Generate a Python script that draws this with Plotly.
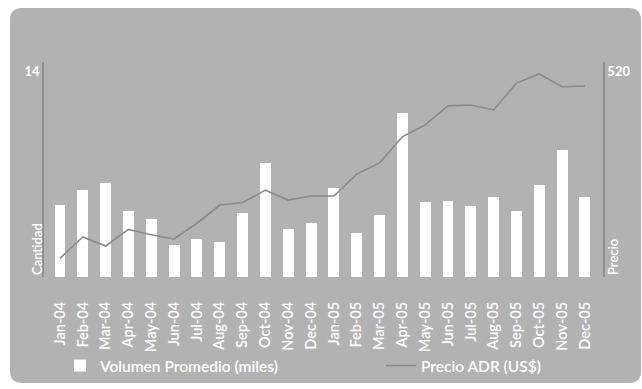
import plotly.graph_objects as go

# Monthly data, Jan-2004 .. Dec-2005
months = ["Jan-04", "Feb-04", "Mar-04", "Apr-04", "May-04", "Jun-04",
          "Jul-04", "Aug-04", "Sep-04", "Oct-04", "Nov-04", "Dec-04",
          "Jan-05", "Feb-05", "Mar-05", "Apr-05", "May-05", "Jun-05",
          "Jul-05", "Aug-05", "Sep-05", "Oct-05", "Nov-05", "Dec-05"]

volumen = [4.7, 5.65, 6.1, 4.3, 3.8, 2.1, 2.5, 2.3, 4.2, 7.4, 3.15, 3.5,
           5.8, 2.85, 4.05, 10.65, 4.9, 4.95, 4.65, 5.2, 4.3, 6.0, 8.25, 5.2]

precio = [45, 97, 75, 115, 102, 92, 130, 174, 180, 210, 186, 196,
          196, 249, 276, 339, 368, 414, 416, 404, 469, 491, 460, 462]

W, H = 642, 389
ML, MR, MT, MB = 44, 39, 62, 112
PW, PH = W - ML - MR, H - MT - MB

PANEL = "#b2b2b2"
LINE = "#8a8a8a"
AXIS = "#8f8f8f"
FONT = "Lato"


def px_to_paper(x, y):
    return (x - ML) / PW, (H - MB - y) / PH


def rounded_panel(x0, y0, x1, y1, r):
    def p(x, y):
        u, v = px_to_paper(x, y)
        return f"{u:.5f},{v:.5f}"
    return " ".join([
        f"M {p(x0 + r, y0)}",
        f"L {p(x1 - r, y0)}",
        f"Q {p(x1, y0)} {p(x1, y0 + r)}",
        f"L {p(x1, y1 - r)}",
        f"Q {p(x1, y1)} {p(x1 - r, y1)}",
        f"L {p(x0 + r, y1)}",
        f"Q {p(x0, y1)} {p(x0, y1 - r)}",
        f"L {p(x0, y0 + r)}",
        f"Q {p(x0, y0)} {p(x0 + r, y0)} Z",
    ])


fig = go.Figure()

fig.add_trace(go.Bar(
    x=months, y=volumen, name="Volumen Promedio (miles)",
    marker=dict(color="white", line=dict(width=0)),
    width=0.48, yaxis="y", legend="legend", showlegend=True,
))

fig.add_trace(go.Scatter(
    x=months, y=precio, name="Precio ADR (US$)", mode="lines",
    line=dict(color=LINE, width=1.6), yaxis="y2", legend="legend2",
    showlegend=True,
))

legend_font = dict(family=FONT, size=15.5, color="white", weight=600)
legend_y = (H - MB - 366) / PH

fig.update_layout(
    width=W, height=H,
    showlegend=True,
    margin=dict(l=ML, r=MR, t=MT, b=MB, autoexpand=False),
    paper_bgcolor="white",
    plot_bgcolor="rgba(0,0,0,0)",
    font=dict(family=FONT, color="white", size=14),
    bargap=0,
    xaxis=dict(
        type="category", range=[-0.70, 23.79],
        showgrid=False, zeroline=False, showline=False,
        tickangle=-90, ticks="", ticklabelstandoff=21,
        tickfont=dict(family=FONT, size=14.5, color="white", weight=600),
    ),
    yaxis=dict(
        range=[0, 14], tickvals=[14], ticktext=["14"],
        showgrid=False, zeroline=False,
        showline=True, linecolor=AXIS, linewidth=1.5,
        ticks="", ticklabelposition="outside bottom",
        tickfont=dict(family=FONT, size=13, color="white", weight=700),
    ),
    yaxis2=dict(
        range=[0, 520], tickvals=[520], ticktext=["520"],
        overlaying="y", side="right",
        showgrid=False, zeroline=False,
        showline=True, linecolor=AXIS, linewidth=1.5,
        ticks="", ticklabelposition="outside bottom",
        tickfont=dict(family=FONT, size=13, color="white", weight=700),
    ),
    legend=dict(
        orientation="h", x=(60 - ML) / PW, y=legend_y,
        xanchor="left", yanchor="middle",
        bgcolor="rgba(0,0,0,0)", font=legend_font,
    ),
    legend2=dict(
        orientation="h", x=(381 - ML) / PW, y=legend_y,
        xanchor="left", yanchor="middle",
        bgcolor="rgba(0,0,0,0)", font=legend_font,
    ),
    shapes=[dict(
        type="path", xref="paper", yref="paper", layer="below",
        path=rounded_panel(10, 8, 641, 383, 12),
        fillcolor=PANEL, line=dict(width=0),
    )],
    annotations=[
        dict(text="Cantidad", xref="paper", yref="paper",
             x=(37 - ML) / PW, y=0, xanchor="center", yanchor="bottom",
             textangle=-90, showarrow=False,
             font=dict(family=FONT, size=13, color="white", weight=600)),
        dict(text="Precio", xref="paper", yref="paper",
             x=(613 - ML) / PW, y=0, xanchor="center", yanchor="bottom",
             textangle=-90, showarrow=False,
             font=dict(family=FONT, size=13, color="white", weight=600)),
    ],
)

fig.write_html("out.html")
